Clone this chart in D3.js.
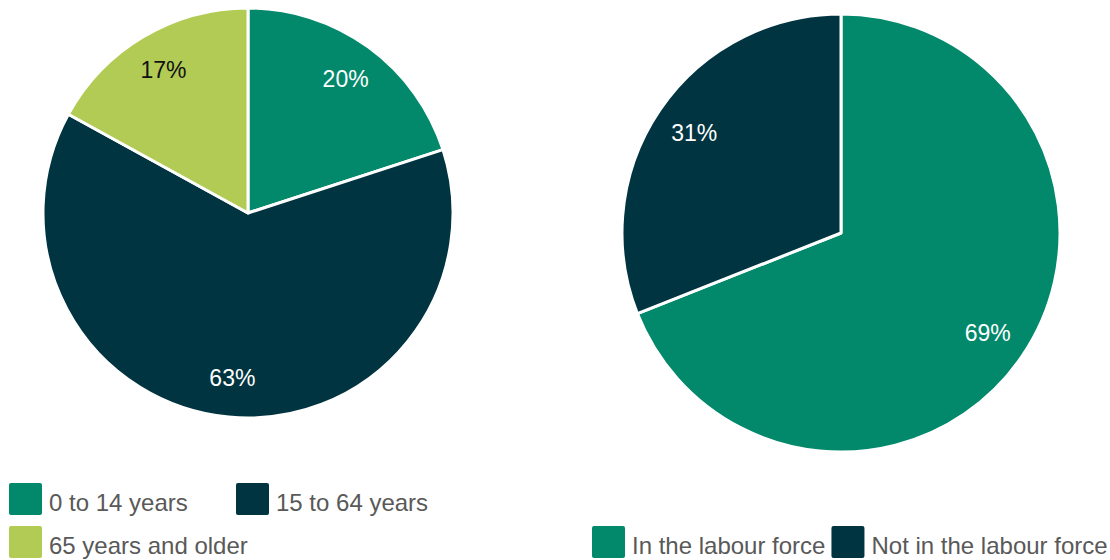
<!DOCTYPE html>
<html>
<head>
<meta charset="utf-8">
<script src="https://cdn.jsdelivr.net/npm/d3@7"></script>
<style>
  body { margin: 0; background: #fff; }
  svg { display: block; font-family: "Liberation Sans", Arial, sans-serif; }
</style>
</head>
<body>
<svg id="chart" width="1110" height="560"></svg>
<script>
// age groups
var ageLabels = ["0 to 14 years", "15 to 64 years", "65 years and older"];
var ageValues = [20, 63, 17];
var ageColors = ["#02886a", "#003440", "#b2cb55"];
var ageText = ["#ffffff", "#ffffff", "#111111"];

// labour force
var labourLabels = ["In the labour force", "Not in the labour force"];
var labourValues = [69, 31];
var labourColors = ["#02886a", "#003440"];
var labourText = ["#ffffff", "#ffffff"];

var svg = d3.select("#chart");

function drawPie(cx, cy, r, labels, values, colors, textColors)
{
  var g = svg.append("g").attr("transform", "translate(" + cx + "," + cy + ")");
  var pie = d3.pie().sort(null).value(function (d) { return d; });
  var arc = d3.arc().innerRadius(0).outerRadius(r);
  var labelArc = d3.arc().innerRadius(r * 0.81).outerRadius(r * 0.81);
  var arcs = pie(values);

  g.selectAll("path")
   .data(arcs)
   .enter()
   .append("path")
   .attr("d", arc)
   .attr("fill", function (d, i) { return colors[i]; })
   .attr("stroke", "#fff")
   .attr("stroke-width", 3)
   .attr("stroke-linejoin", "round");

  g.selectAll("text")
   .data(arcs)
   .enter()
   .append("text")
   .attr("transform", function (d) { return "translate(" + labelArc.centroid(d) + ")"; })
   .attr("text-anchor", "middle")
   .attr("dy", "0.35em")
   .attr("font-size", 23)
   .attr("fill", function (d, i) { return textColors[i]; })
   .text(function (d) { return d.data + "%"; });
}

drawPie(248, 213, 205, ageLabels, ageValues, ageColors, ageText);
drawPie(841, 233, 219, labourLabels, labourValues, labourColors, labourText);

function legendItem(x, y, color, label)
{
  var g = svg.append("g").attr("transform", "translate(" + x + "," + y + ")");
  g.append("rect")
   .attr("width", 33).attr("height", 32)
   .attr("rx", 2).attr("ry", 2)
   .attr("fill", color);
  var t = g.append("text")
   .attr("x", 40).attr("y", 28)
   .attr("font-size", 24)
   .attr("fill", "#595959")
   .text(label);
  return 40 + t.node().getComputedTextLength();
}

// left legend: two columns
ageLabels.forEach(function (l, i)
{
  legendItem(9 + (i % 2) * 227, 483 + Math.floor(i / 2) * 43, ageColors[i], l);
});

// right legend: flowing row
var lx = 592;
labourLabels.forEach(function (l, i)
{
  lx += legendItem(lx, 526, labourColors[i], l) + 6;
});
</script>
</body>
</html>
